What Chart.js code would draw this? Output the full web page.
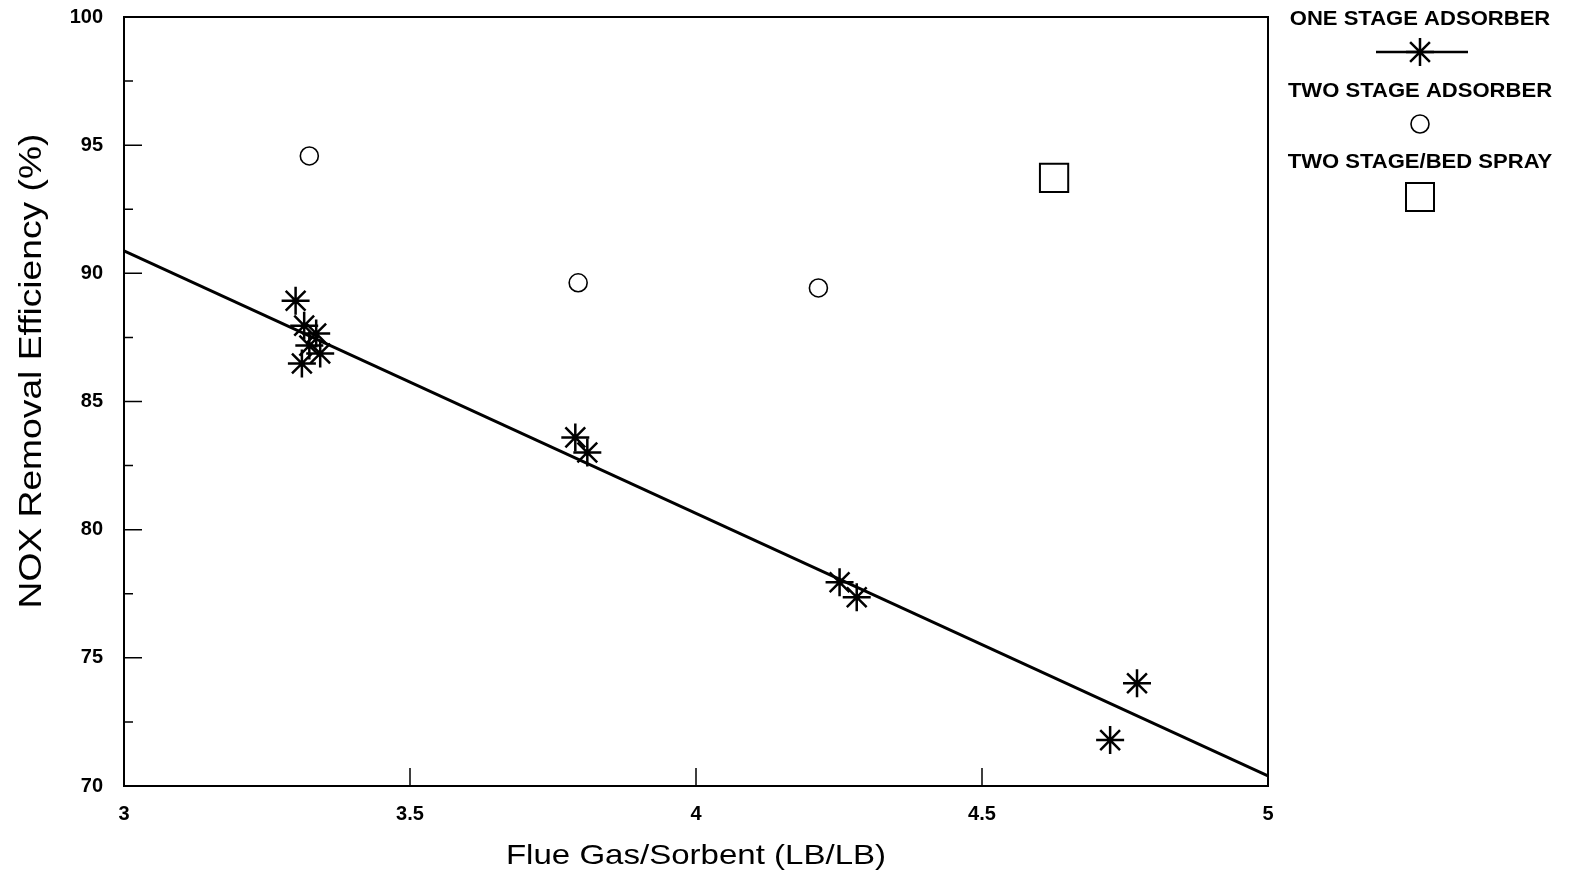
<!DOCTYPE html>
<html>
<head>
<meta charset="utf-8">
<script src="https://cdn.jsdelivr.net/npm/chart.js@4/dist/chart.umd.min.js"></script>
<style>
  html, body { margin: 0; padding: 0; background: #fff; }
  #wrap { width: 1573px; height: 881px; }
</style>
</head>
<body>
<div id="wrap"><canvas id="noxChart" width="1573" height="881"></canvas></div>
<script>
// one stage adsorber measurements
const oneStageX = [3.30, 3.315, 3.336, 3.324, 3.343, 3.311, 3.789, 3.810, 4.251, 4.281, 4.771, 4.724];
const oneStageY = [88.93, 87.96, 87.65, 87.18, 86.87, 86.48, 83.60, 83.01, 77.95, 77.36, 74.01, 71.79];
// fitted line for one stage
const fitX = [3, 5];
const fitY = [90.88, 70.39];
// two stage adsorber
const twoStageX = [3.324, 3.794, 4.214];
const twoStageY = [94.58, 89.63, 89.43];
// two stage / bed spray
const bedSprayX = [4.626];
const bedSprayY = [93.72];

const xTicks = [3, 3.5, 4, 4.5, 5];
const yTicks = [70, 75, 80, 85, 90, 95, 100];
const yMinorTicks = [72.5, 77.5, 82.5, 87.5, 92.5, 97.5];

const xTitle = 'Flue Gas/Sorbent (LB/LB)';
const yTitle = 'NOX Removal Efficiency (%)';
const legendLabels = ['ONE STAGE ADSORBER', 'TWO STAGE ADSORBER', 'TWO STAGE/BED SPRAY'];

const toPoints = (xs, ys) => xs.map((x, i) => ({ x, y: ys[i] }));
const INK = '#000';
const FONT = '"Liberation Sans", Arial, sans-serif';

// the scanned lettering is a little wider than Arial, so stretch it along the text
function stretchedText(ctx, text, x, y, stretch) {
  ctx.save();
  ctx.translate(x, y);
  ctx.scale(stretch, 1);
  ctx.fillText(text, 0, 0);
  ctx.restore();
}

// frame, inward ticks, titles and the stacked legend
const framePlugin = {
  id: 'frame',
  afterDraw(chart) {
    const { ctx, chartArea: a, scales } = chart;
    const x = scales.x, y = scales.y;
    ctx.save();
    ctx.strokeStyle = INK;
    ctx.lineWidth = 2;
    ctx.strokeRect(a.left, a.top, a.right - a.left, a.bottom - a.top);

    ctx.lineWidth = 1.5;
    ctx.beginPath();
    yTicks.forEach(v => {
      const py = y.getPixelForValue(v);
      ctx.moveTo(a.left, py); ctx.lineTo(a.left + 18, py);
    });
    yMinorTicks.forEach(v => {
      const py = y.getPixelForValue(v);
      ctx.moveTo(a.left, py); ctx.lineTo(a.left + 9, py);
    });
    xTicks.forEach(v => {
      const px = x.getPixelForValue(v);
      ctx.moveTo(px, a.bottom); ctx.lineTo(px, a.bottom - 18);
    });
    ctx.stroke();

    // axis titles
    ctx.fillStyle = INK;
    ctx.textAlign = 'center';
    ctx.textBaseline = 'middle';
    ctx.font = '28px ' + FONT;
    stretchedText(ctx, xTitle, 696, 856, 1.18);
    ctx.save();
    ctx.translate(32, 371);
    ctx.rotate(-Math.PI / 2);
    ctx.font = '31px ' + FONT;
    stretchedText(ctx, yTitle, 0, 0, 1.2);
    ctx.restore();

    // legend
    const lx = 1420;
    ctx.font = 'bold 21px ' + FONT;
    stretchedText(ctx, legendLabels[0], lx, 19, 1.05);
    stretchedText(ctx, legendLabels[1], lx, 91, 1.05);
    stretchedText(ctx, legendLabels[2], lx, 162, 1.05);

    ctx.lineWidth = 2.5;
    ctx.beginPath();
    ctx.moveTo(1376, 52); ctx.lineTo(1468, 52);
    ctx.stroke();
    Chart.helpers.drawPoint(ctx, { pointStyle: 'star', radius: 14, borderWidth: 2.4 }, lx, 52);
    ctx.lineWidth = 1.6;
    ctx.beginPath();
    ctx.arc(lx, 124, 9, 0, Math.PI * 2);
    ctx.stroke();
    ctx.lineWidth = 2;
    ctx.strokeRect(lx - 14, 183, 28, 28);
    ctx.restore();
  }
};

new Chart(document.getElementById('noxChart').getContext('2d'), {
  type: 'scatter',
  data: {
    datasets: [
      {
        label: 'fit',
        data: toPoints(fitX, fitY),
        showLine: true,
        borderColor: INK,
        borderWidth: 3,
        pointRadius: 0
      },
      {
        label: legendLabels[0],
        data: toPoints(oneStageX, oneStageY),
        pointStyle: 'star',
        pointRadius: 14,
        borderColor: INK,
        pointBorderWidth: 2.5
      },
      {
        label: legendLabels[1],
        data: toPoints(twoStageX, twoStageY),
        pointStyle: 'circle',
        pointRadius: 9,
        borderColor: INK,
        backgroundColor: '#fff',
        pointBorderWidth: 1.6
      },
      {
        label: legendLabels[2],
        data: toPoints(bedSprayX, bedSprayY),
        pointStyle: 'rect',
        pointRadius: 20,
        borderColor: INK,
        backgroundColor: '#fff',
        pointBorderWidth: 2
      }
    ]
  },
  options: {
    responsive: false,
    animation: false,
    layout: { autoPadding: false, padding: { top: 17, right: 305, left: 0, bottom: 0 } },
    plugins: {
      legend: { display: false },
      tooltip: { enabled: false }
    },
    scales: {
      x: {
        type: 'linear',
        min: 3,
        max: 5,
        grid: { display: false, drawTicks: false },
        border: { display: false },
        afterFit: s => { s.height = 95; s.paddingLeft = 0; s.paddingRight = 0; },
        afterBuildTicks: s => { s.ticks = xTicks.map(v => ({ value: v })); },
        ticks: {
          padding: 16,
          color: INK,
          font: { family: FONT, size: 20, weight: 'bold' },
          callback: v => String(v)
        }
      },
      y: {
        type: 'linear',
        min: 70,
        max: 100,
        grid: { display: false, drawTicks: false },
        border: { display: false },
        afterFit: s => { s.width = 124; s.paddingTop = 0; s.paddingBottom = 0; },
        afterBuildTicks: s => { s.ticks = yTicks.map(v => ({ value: v })); },
        ticks: {
          padding: 21,
          color: INK,
          font: { family: FONT, size: 20, weight: 'bold' },
          callback: v => String(v)
        }
      }
    }
  },
  plugins: [framePlugin]
});
</script>
</body>
</html>
